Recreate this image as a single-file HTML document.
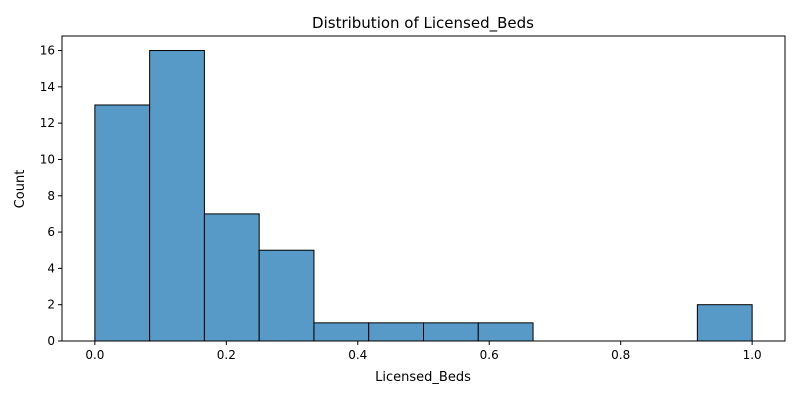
<!DOCTYPE html>
<html><head><meta charset="utf-8"><style>
body{margin:0;background:#fff;}
svg{display:block;font-family:"DejaVu Sans","Liberation Sans",sans-serif;}
</style></head><body>
<svg id="chart" width="800" height="400">
<rect width="800" height="400" fill="#fff"/>
<g id="bars"></g>
<g id="axes"></g>
<text x="423" y="28" text-anchor="middle" font-size="15" fill="#000">Distribution of Licensed_Beds</text>
<text x="423" y="381" text-anchor="middle" font-size="13" fill="#000">Licensed_Beds</text>
<text x="24" y="189" text-anchor="middle" font-size="13" fill="#000" transform="rotate(-90 24 189)">Count</text>
</svg>
<script>
const binStarts=[0,1/12,2/12,3/12,4/12,5/12,6/12,7/12,8/12,9/12,10/12,11/12];
const counts=[13,16,7,5,1,1,1,1,0,0,0,2];
const xTicks=[0,0.2,0.4,0.6,0.8,1.0];
const xTickLabels=["0.0","0.2","0.4","0.6","0.8","1.0"];
const yTicks=[0,2,4,6,8,10,12,14,16];
const binWidth=1/12;
const L=62,R=785,T=36,B=341;
const xMin=-0.05,xMax=1.05,yMin=0,yMax=16.8;
const xs=v=>L+(v-xMin)/(xMax-xMin)*(R-L);
const ys=v=>B-(v-yMin)/(yMax-yMin)*(B-T);
const NS="http://www.w3.org/2000/svg";
const bars=document.getElementById('bars'),axes=document.getElementById('axes');
function mk(t,a,p){const e=document.createElementNS(NS,t);for(const k in a)e.setAttribute(k,a[k]);p.appendChild(e);return e;}
counts.forEach((c,i)=>{
 const x0=xs(binStarts[i]),x1=xs(binStarts[i]+binWidth);
 const r=mk('rect',{x:x0,y:ys(c),width:x1-x0,height:ys(0)-ys(c),fill:'#5799c7',stroke:'#000','stroke-width':1},bars);
 
 
});
mk('rect',{x:L,y:T,width:R-L,height:B-T,fill:'none',stroke:'#000','stroke-width':1},axes);
xTicks.forEach((v,i)=>{
 const x=xs(v);
 mk('line',{x1:x,x2:x,y1:B,y2:B+4,stroke:'#000'},axes);
 const t=mk('text',{x:x,y:B+18,'text-anchor':'middle','font-size':12,fill:'#000'},axes);
 t.textContent=xTickLabels[i];
 
 
});
yTicks.forEach(v=>{
 const y=ys(v);
 mk('line',{x1:L-4,x2:L,y1:y,y2:y,stroke:'#000'},axes);
 const t=mk('text',{x:L-7,y:y+4,'text-anchor':'end','font-size':12,fill:'#000'},axes);
 t.textContent=v;
 
 
});
</script>
</body></html>
